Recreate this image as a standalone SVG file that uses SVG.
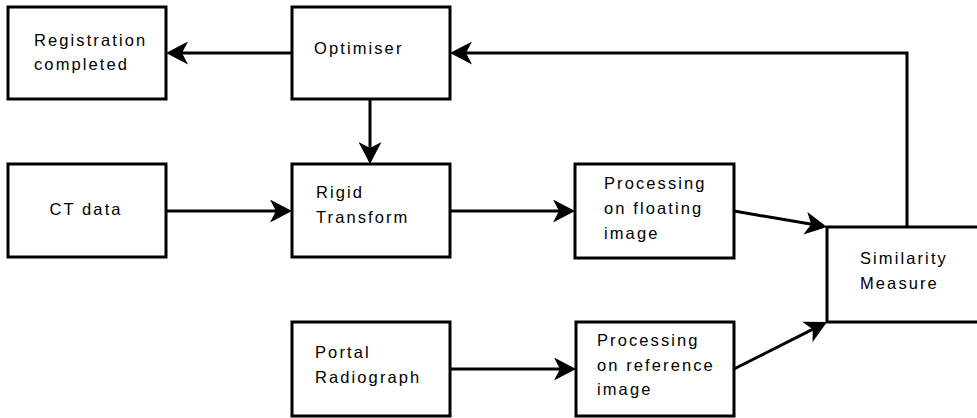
<svg xmlns="http://www.w3.org/2000/svg" width="977" height="418" viewBox="0 0 977 418">
<style>
.box{fill:#fff;stroke:#000;stroke-width:3}
.lbl{font-family:"Liberation Sans",Arial,Helvetica,sans-serif;font-size:16.5px;letter-spacing:2.1px;fill:#000}
.con{fill:none;stroke:#000;stroke-width:3}
</style>
<defs>
<marker id="ah" markerUnits="userSpaceOnUse" markerWidth="22" markerHeight="23" viewBox="0 0 22 23" refX="8" refY="11.5" orient="auto">
<path d="M0,0 L22,11.5 L0,23 L6,11.5 Z" fill="#000"/>
</marker>
</defs>
<rect width="977" height="418" fill="#fff"/>
<g id="connectors">
<line class="con" x1="292" y1="53" x2="180" y2="53" marker-end="url(#ah)"/>
<line class="con" x1="370" y1="99" x2="370" y2="150" marker-end="url(#ah)"/>
<line class="con" x1="166" y1="211" x2="278" y2="211" marker-end="url(#ah)"/>
<line class="con" x1="450" y1="211" x2="561" y2="211" marker-end="url(#ah)"/>
<line class="con" x1="734" y1="211" x2="813.2" y2="224.6" marker-end="url(#ah)"/>
<line class="con" x1="450" y1="369" x2="562" y2="369" marker-end="url(#ah)"/>
<line class="con" x1="734" y1="369" x2="814.5" y2="328.3" marker-end="url(#ah)"/>
<polyline class="con" points="907,227 907,53 464,53" marker-end="url(#ah)"/>
</g>
<g id="registration">
<rect class="box" x="8" y="7" width="158" height="92"/>
<text class="lbl" x="34" y="46">Registration</text>
<text class="lbl" x="34" y="70">completed</text>
</g>
<g id="optimiser">
<rect class="box" x="292" y="7" width="158" height="92"/>
<text class="lbl" x="314" y="54">Optimiser</text>
</g>
<g id="ctdata">
<rect class="box" x="8" y="164" width="158" height="93"/>
<text class="lbl" x="49.5" y="215">CT data</text>
</g>
<g id="rigid">
<rect class="box" x="292" y="164" width="158" height="93"/>
<text class="lbl" x="316" y="198">Rigid</text>
<text class="lbl" x="316" y="223">Transform</text>
</g>
<g id="floating">
<rect class="box" x="575" y="164" width="159" height="94"/>
<text class="lbl" x="604" y="189">Processing</text>
<text class="lbl" x="604" y="214">on floating</text>
<text class="lbl" x="604" y="239">image</text>
</g>
<g id="similarity">
<rect class="box" x="827" y="227" width="160" height="95"/>
<text class="lbl" x="860" y="264">Similarity</text>
<text class="lbl" x="860" y="289">Measure</text>
</g>
<g id="portal">
<rect class="box" x="292" y="322" width="158" height="94"/>
<text class="lbl" x="315" y="358">Portal</text>
<text class="lbl" x="315" y="383">Radiograph</text>
</g>
<g id="reference">
<rect class="box" x="576" y="322" width="158" height="94"/>
<text class="lbl" x="597" y="346">Processing</text>
<text class="lbl" x="597" y="371">on reference</text>
<text class="lbl" x="597" y="395">image</text>
</g>
</svg>
